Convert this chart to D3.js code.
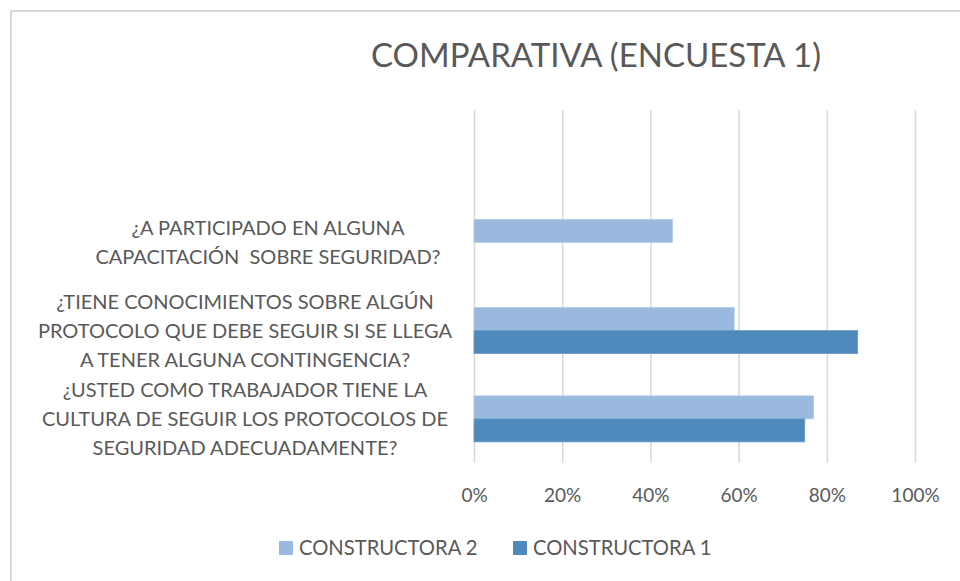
<!DOCTYPE html>
<html>
<head>
<meta charset="utf-8">
<script src="https://cdn.jsdelivr.net/npm/d3@7"></script>
<style>
  html, body { margin: 0; padding: 0; background: #fff; }
  svg text { font-family: Lato, "Open Sans", sans-serif; fill: #595959; }
</style>
</head>
<body>
<svg id="chart" width="960" height="581"></svg>
<script>
// Survey questions, listed top to bottom (the top slot is an empty category)
const categories = [
  "",
  "¿A PARTICIPADO EN ALGUNA CAPACITACIÓN SOBRE SEGURIDAD?",
  "¿TIENE CONOCIMIENTOS SOBRE ALGÚN PROTOCOLO QUE DEBE SEGUIR SI SE LLEGA A TENER ALGUNA CONTINGENCIA?",
  "¿USTED COMO TRABAJADOR TIENE LA CULTURA DE SEGUIR LOS PROTOCOLOS DE SEGURIDAD ADECUADAMENTE?"
];
// Wrapped lines of each question label
const categoryLines = [
  [],
  ["¿A PARTICIPADO EN ALGUNA", "CAPACITACIÓN  SOBRE SEGURIDAD?"],
  ["¿TIENE CONOCIMIENTOS SOBRE ALGÚN", "PROTOCOLO QUE DEBE SEGUIR SI SE LLEGA", "A TENER ALGUNA CONTINGENCIA?"],
  ["¿USTED COMO TRABAJADOR TIENE LA", "CULTURA DE SEGUIR LOS PROTOCOLOS DE", "SEGURIDAD ADECUADAMENTE?"]
];
const seriesNames = ["CONSTRUCTORA 2", "CONSTRUCTORA 1"];
const constructora2 = [null, 0.45, 0.59, 0.77];
const constructora1 = [null, null, 0.87, 0.75];
const xTicks = [0, 0.2, 0.4, 0.6, 0.8, 1.0];
const titleText = "COMPARATIVA (ENCUESTA 1)";

const colors = { "CONSTRUCTORA 2": "#99B9DF", "CONSTRUCTORA 1": "#4F89BC" };
const seriesValues = { "CONSTRUCTORA 2": constructora2, "CONSTRUCTORA 1": constructora1 };

const svg = d3.select("#chart");
const W = 960, H = 581;
const plot = { left: 474, right: 915, top: 110, bottom: 463 };

// Outer chart frame (right and bottom edges fall outside the view)
svg.append("rect")
  .attr("x", 11).attr("y", 11)
  .attr("width", W).attr("height", H + 10)
  .attr("fill", "none").attr("stroke", "#D9D9D9").attr("stroke-width", 2);

// Title
svg.append("text")
  .attr("x", 596).attr("y", 67)
  .attr("text-anchor", "middle")
  .style("font-size", "33px")
  .text(titleText);

const x = d3.scaleLinear().domain([0, 1]).range([plot.left, plot.right]);
const gapRatio = 1 - 46 / 88.25;
const y = d3.scaleBand().domain(categories).range([plot.top, plot.bottom])
  .paddingInner(gapRatio).paddingOuter(gapRatio / 2);
const ySub = d3.scaleBand().domain(seriesNames).range([0, y.bandwidth()]);

// Vertical gridlines + tick labels via axis
const xAxis = d3.axisBottom(x).tickValues(xTicks).tickFormat(d3.format(".0%"))
  .tickSize(-(plot.bottom - plot.top)).tickPadding(0);
const gx = svg.append("g").attr("transform", `translate(0,${plot.bottom})`).call(xAxis);
gx.select(".domain").remove();
gx.selectAll(".tick line").attr("stroke", "#D9D9D9").attr("stroke-width", 1.5);
gx.selectAll(".tick text")
  .attr("y", 39).attr("dy", 0)
  .style("font-size", "19px").attr("fill", "#595959");

// Bars
const rows = [];
categories.forEach((c, i) => {
  seriesNames.forEach(s => {
    const v = seriesValues[s][i];
    if (v != null) rows.push({ cat: c, series: s, value: v });
  });
});
svg.append("g").selectAll("rect").data(rows).join("rect")
  .attr("x", x(0))
  .attr("y", d => y(d.cat) + ySub(d.series))
  .attr("width", d => x(d.value) - x(0))
  .attr("height", ySub.bandwidth())
  .attr("fill", d => colors[d.series])
  .attr("stroke", d => d.series === "CONSTRUCTORA 2" ? "#B4CBE8" : "#6A9CC8")
  .attr("stroke-width", 0.8);

// Category labels (centered, multi-line)
const labelCenterX = 245;
const lineGap = 29;
const labels = svg.append("g");
categories.forEach((c, i) => {
  const lines = categoryLines[i];
  const cy = y(c) + y.bandwidth() / 2;
  const cx = i === 1 ? labelCenterX + 23 : labelCenterX;
  lines.forEach((ln, j) => {
    labels.append("text")
      .attr("x", cx)
      .attr("y", cy + (j - (lines.length - 1) / 2) * lineGap)
      .attr("dy", "0.36em")
      .attr("text-anchor", "middle")
      .style("font-size", "20px")
      .style("white-space", "pre")
      .attr("xml:space", "preserve")
      .text(ln);
  });
});

// Legend
const legend = svg.append("g");
const legendItems = [
  { name: seriesNames[0], x: 279 },
  { name: seriesNames[1], x: 513 }
];
legendItems.forEach(it => {
  legend.append("rect")
    .attr("x", it.x).attr("y", 541)
    .attr("width", 14).attr("height", 14)
    .attr("fill", colors[it.name]);
  legend.append("text")
    .attr("x", it.x + 20).attr("y", 548).attr("dy", "0.36em")
    .style("font-size", "20.2px")
    .text(it.name);
});
</script>
</body>
</html>
